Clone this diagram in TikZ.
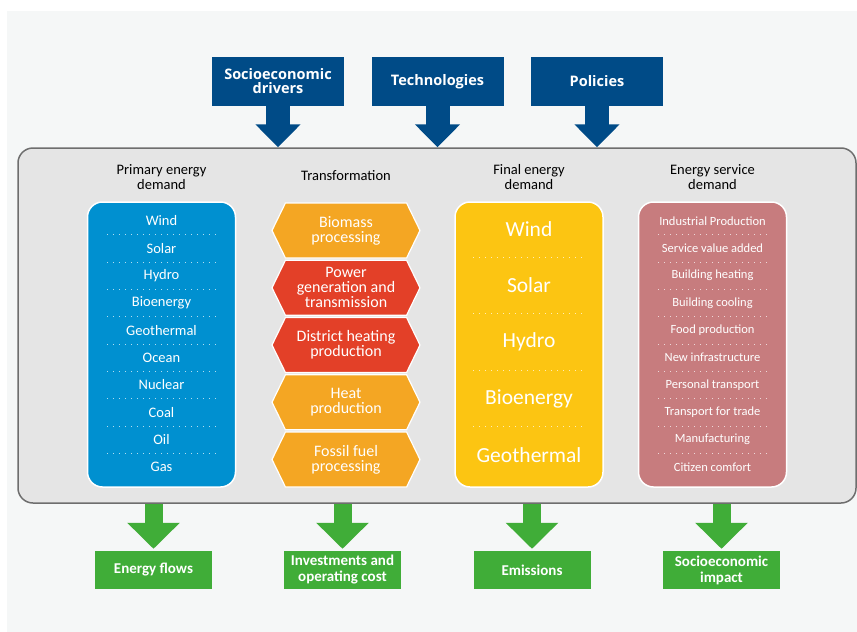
\documentclass[tikz,border=0pt]{standalone}
\usepackage{fontspec}
\setmainfont{Carlito}
\newfontfamily\headfont{Open Sans}
\usetikzlibrary{positioning}
\usetikzlibrary{calc}
\usetikzlibrary{arrows.meta,shapes.symbols}

\definecolor{pagegray}{RGB}{245,247,247}
\definecolor{panelgray}{RGB}{229,229,229}
\definecolor{rimgray}{RGB}{110,110,110}
\definecolor{navy}{RGB}{0,75,135}
\definecolor{skyblue}{RGB}{0,144,208}
\definecolor{hexorange}{RGB}{244,166,35}
\definecolor{hexred}{RGB}{227,64,40}
\definecolor{sunyellow}{RGB}{252,197,18}
\definecolor{rosepink}{RGB}{199,124,126}
\definecolor{leafgreen}{RGB}{64,173,56}

\tikzset{
  inbox/.style={fill=navy,minimum width=132pt,minimum height=49pt,text=white,align=center,
    font=\headfont\bfseries\fontsize{14.5}{14}\selectfont},
  outbox/.style={fill=leafgreen,minimum width=117pt,minimum height=38pt,text=white,align=center,
    font=\bfseries\fontsize{15}{16}\selectfont},
  header/.style={align=center,font=\fontsize{14.5}{15}\selectfont},
  column/.style={draw=white,line width=1.5pt,rounded corners=15pt,minimum width=148pt,minimum height=285pt},
  hexa/.style={signal,signal to=east and west,signal pointer angle=128,draw=white,line width=1.2pt,
    minimum width=148pt,minimum height=55pt,text=white,align=center,inner sep=0pt,
    font=\fontsize{16}{15}\selectfont},
  item/.style={text=white,inner sep=0pt},
  sep/.style={white,opacity=0.7,line width=0.7pt,dash pattern=on 1pt off 5pt},
  inarrow/.style={navy,line width=24pt,-{Triangle[width=44pt,length=23pt]}},
  outarrow/.style={leafgreen,line width=18pt,-{Triangle[width=51pt,length=26pt]}}
}

\begin{document}
\begin{tikzpicture}[x=1pt,y=-1pt]
\useasboundingbox (0,0) rectangle (857,632);
\fill[pagegray] (7,11) rectangle (857,632);

% main panel
\node[draw=rimgray,fill=panelgray,line width=1.5pt,rounded corners=15pt,
  minimum width=838pt,minimum height=355pt](panel) at (437,325.5){};

% inputs on top
\node[inbox](drivers) at (278,81.5){Socioeconomic\\drivers};
\node[inbox](tech) at (437.5,81.5){Technologies};
\node[inbox](policies) at (597,81.5){Policies};

% column headers
\node[header](hPrimary) at (161.5,177){Primary energy\\demand};
\node[header](hTransf) at (346,176){Transformation};
\node[header](hFinal) at (529,177){Final energy\\demand};
\node[header](hService) at (712.5,177){Energy service\\demand};

% primary energy demand
\node[column,fill=skyblue](primary) at (161.5,344.5){};
\foreach \t [count=\i] in {Wind,Solar,Hydro,Bioenergy,Geothermal,Ocean,Nuclear,Coal,Oil,Gas}
  \node[item,font=\fontsize{14.5}{15}\selectfont](p\i) at (161.5,{221+27.33*(\i-1)}){\t};
\foreach \i in {1,...,9}
  \draw[sep] (107,{221+27.33*(\i-0.5)}) -- (217,{221+27.33*(\i-0.5)});

% transformation
\node[hexa,fill=hexorange](biomass) at (346,230.5){Biomass\\processing};
\node[hexa,fill=hexred](power) at (346,287.75){Power\\generation and\\transmission};
\node[hexa,fill=hexred](district) at (346,345){District heating\\production};
\node[hexa,fill=hexorange](heat) at (346,402.25){Heat\\production};
\node[hexa,fill=hexorange](fossil) at (346,459.5){Fossil fuel\\processing};

% final energy demand
\node[column,fill=sunyellow](final) at (529,344.5){};
\foreach \t [count=\i] in {Wind,Solar,Hydro,Bioenergy,Geothermal}
  \node[item,font=\fontsize{21.5}{22}\selectfont](f\i) at (529,{229+56.5*(\i-1)}){\t};
\foreach \i in {1,...,4}
  \draw[sep] (473,{229+56.5*(\i-0.5)}) -- (585,{229+56.5*(\i-0.5)});

% energy service demand
\node[column,fill=rosepink](service) at (712.5,344.5){};
\foreach \t [count=\i] in {Industrial Production,Service value added,Building heating,Building cooling,
  Food production,New infrastructure,Personal transport,Transport for trade,Manufacturing,Citizen comfort}
  \node[item,font=\fontsize{12.5}{13}\selectfont](s\i) at (712.5,{221+27.33*(\i-1)}){\t};
\foreach \i in {1,...,9}
  \draw[sep] (658,{221+27.33*(\i-0.5)}) -- (767,{221+27.33*(\i-0.5)});

% outputs at the bottom
\node[outbox](flows) at (153.5,570){Energy flows};
\node[outbox](invest) at (342.5,570){Investments and\\operating cost};
\node[outbox](emis) at (532,570){Emissions};
\node[outbox](impact) at (721.5,570){Socioeconomic\\impact};

\coordinate (inDrivers) at (drivers.south |- panel.north);
\coordinate (inTech) at (tech.south |- panel.north);
\coordinate (inPolicies) at (policies.south |- panel.north);
\coordinate (outFlows) at (flows.north |- panel.south);
\coordinate (outInvest) at (invest.north |- panel.south);
\coordinate (outEmis) at (emis.north |- panel.south);
\coordinate (outImpact) at (impact.north |- panel.south);

\path
(drivers) edge[inarrow] (inDrivers)
(tech) edge[inarrow] (inTech)
(policies) edge[inarrow] (inPolicies)
(outFlows) edge[outarrow,shorten >=2pt] (flows)
(outInvest) edge[outarrow,shorten >=2pt] (invest)
(outEmis) edge[outarrow,shorten >=2pt] (emis)
(outImpact) edge[outarrow,shorten >=2pt] (impact);
\end{tikzpicture}
\end{document}
